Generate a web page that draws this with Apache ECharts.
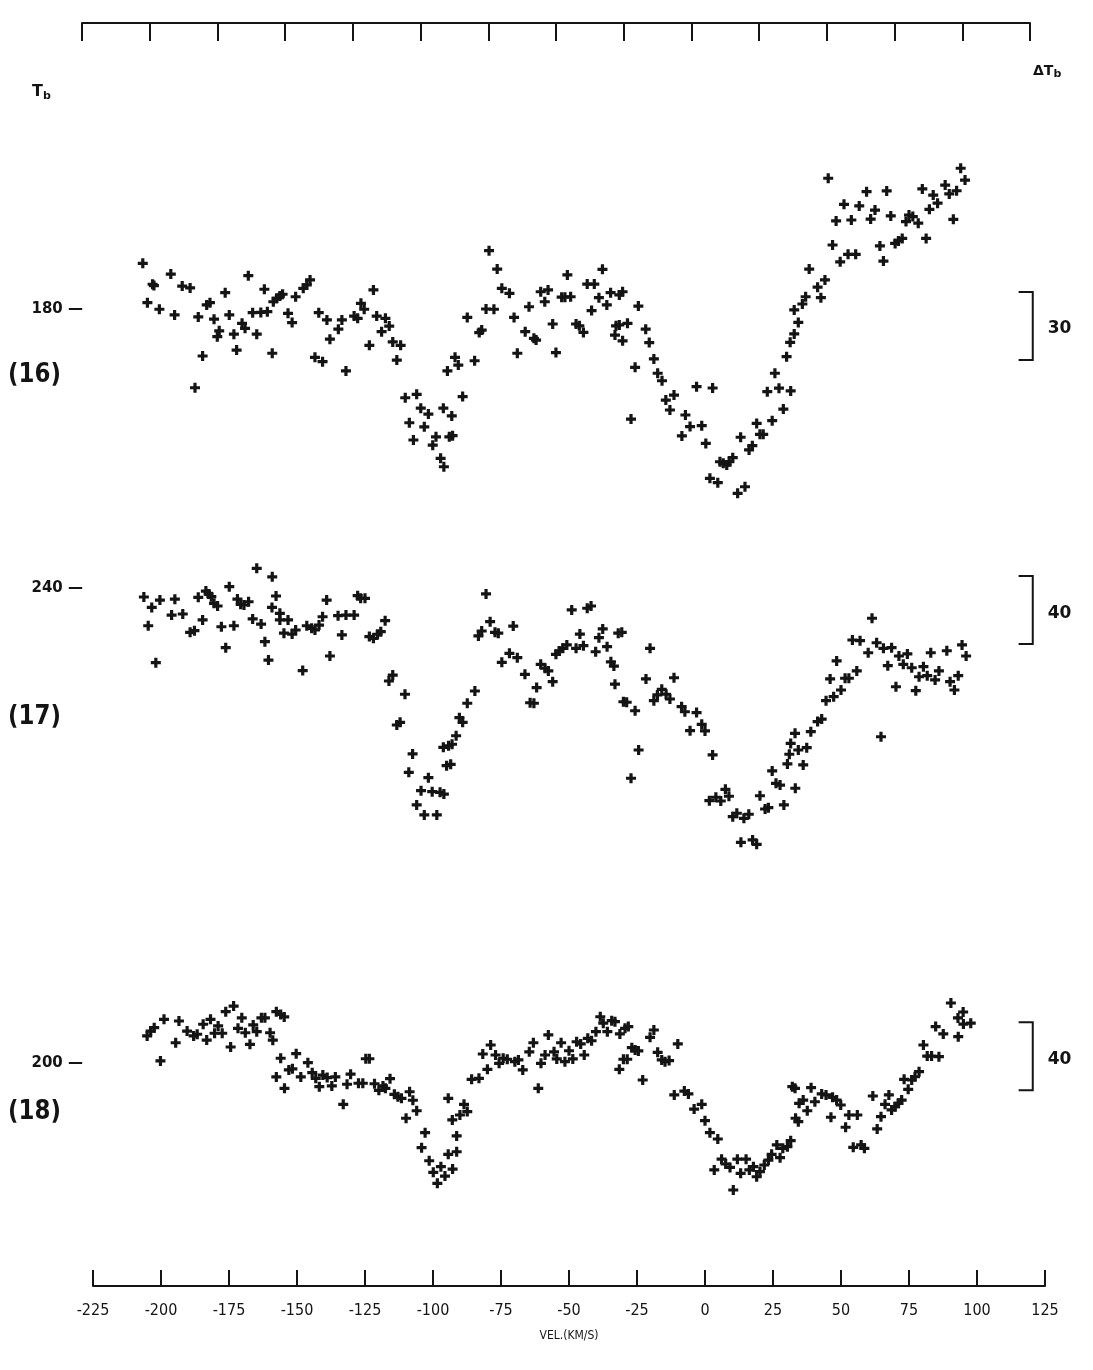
<!DOCTYPE html>
<html>
<head>
<meta charset="utf-8">
<script src="https://cdn.jsdelivr.net/npm/echarts@6/dist/echarts.min.js"></script>
<style>html,body{margin:0;padding:0;background:#fff}#c{width:1093px;height:1370px}</style>
</head>
<body>
<div id="c"></div>
<script>
// Velocity axis (km/s)
const velTicks = [-225,-200,-175,-150,-125,-100,-75,-50,-25,0,25,50,75,100,125];

// Spectrum (16)
const vel16 = [-206.7,-205.0,-203.1,-202.6,-200.6,-196.4,-195.0,-192.2,-189.3,-187.5,-186.3,-184.7,-183.2,-182.0,-180.5,-179.3,-178.6,-176.4,-174.9,-173.2,-172.2,-170.2,-169.1,-167.9,-166.3,-164.8,-163.3,-162.0,-160.9,-159.1,-158.7,-157.5,-156.3,-155.3,-153.3,-151.8,-150.5,-147.7,-146.4,-145.2,-143.4,-142.0,-140.6,-139.0,-137.9,-134.8,-133.5,-132.0,-129.0,-127.7,-126.5,-125.3,-123.4,-121.9,-120.7,-118.9,-117.5,-116.1,-114.8,-113.3,-111.9,-110.2,-108.7,-107.2,-106.0,-104.5,-103.2,-101.7,-100.1,-98.9,-97.2,-96.2,-96.0,-94.7,-94.0,-93.1,-92.8,-91.9,-90.7,-89.1,-87.4,-84.7,-83.0,-82.1,-80.5,-79.4,-77.6,-76.4,-74.7,-71.9,-70.2,-69.0,-66.1,-64.7,-62.9,-62.1,-60.4,-58.9,-57.7,-56.0,-54.8,-52.7,-51.5,-50.6,-49.4,-47.4,-46.2,-44.7,-43.3,-41.7,-40.7,-39.0,-37.7,-36.1,-34.7,-33.1,-32.7,-31.5,-31.5,-30.3,-30.3,-28.5,-27.2,-25.7,-24.5,-21.8,-20.5,-18.8,-17.4,-15.8,-14.4,-12.9,-11.4,-8.5,-7.2,-5.5,-3.1,-1.2,0.3,1.8,2.8,4.7,5.5,6.7,8.0,8.9,10.2,12.0,13.1,14.7,16.2,17.4,19.0,20.2,21.4,22.9,24.7,25.7,27.2,28.8,30.0,31.3,31.5,32.8,32.8,34.3,35.8,37.0,38.3,41.4,42.6,44.1,45.3,46.9,48.2,49.7,51.1,52.6,53.8,55.4,56.7,59.4,60.9,62.5,64.3,65.6,66.8,68.3,69.9,71.1,72.5,73.9,75.0,76.4,78.4,79.9,81.3,82.5,83.9,85.5,88.3,89.8,91.3,92.5,94.0,95.6];
const tb16 = [200.1,182.8,190.9,190.3,179.9,195.4,177.4,190.1,189.3,145.3,176.5,159.3,181.8,182.8,175.5,167.8,170.4,187.2,177.4,168.9,161.9,173.7,171.5,194.7,178.4,168.9,178.5,188.7,178.8,160.5,183.2,184.7,185.7,186.5,178.1,174.0,185.4,189.1,190.6,192.8,158.7,178.4,156.8,175.2,166.7,171.1,175.2,152.7,176.9,175.9,182.5,179.9,164.0,188.4,176.9,170.0,175.9,172.5,165.5,157.5,164.0,140.9,129.9,122.3,142.4,136.3,128.1,133.7,120.0,123.7,114.2,136.3,110.5,152.7,123.7,132.9,124.2,158.7,155.3,141.4,176.3,157.2,169.6,170.7,180.0,205.7,179.9,197.6,189.1,186.9,176.3,160.5,170.0,181.0,167.1,166.3,187.6,183.2,188.4,173.4,160.8,185.2,185.2,195.0,185.4,173.4,172.6,169.7,191.0,179.3,191.0,185.0,197.5,181.8,187.2,168.5,172.6,173.0,186.2,187.6,166.0,173.7,131.5,154.3,181.3,171.1,165.2,158.0,151.7,148.4,139.9,135.5,142.1,124.1,133.3,128.2,145.8,128.6,120.8,105.4,145.2,103.5,112.7,112.0,111.3,112.7,114.5,98.8,123.5,101.7,117.9,119.8,129.6,124.8,124.8,143.6,130.8,151.7,145.1,135.9,159.0,165.3,143.9,169.0,179.6,174.1,182.2,185.4,197.6,189.6,185.0,192.8,237.6,208.2,218.8,200.8,226.1,204.1,219.2,204.1,225.4,231.7,219.6,223.6,207.8,201.1,232.0,221.0,208.9,210.0,211.1,218.5,221.4,220.7,217.8,232.9,211.1,223.9,230.2,226.6,234.6,230.7,219.5,232.1,242.0,236.8];

// Spectrum (17)
const vel17 = [-206.3,-204.7,-203.4,-201.9,-200.4,-196.1,-194.9,-192.0,-189.3,-187.7,-186.3,-184.7,-183.5,-182.5,-181.5,-180.5,-179.2,-177.8,-176.2,-174.9,-173.2,-171.9,-170.7,-169.5,-167.8,-166.3,-164.8,-163.2,-161.8,-160.5,-159.2,-159.1,-157.7,-156.3,-156.3,-154.8,-153.3,-151.8,-150.5,-147.9,-146.4,-144.6,-143.4,-141.9,-140.6,-139.1,-137.9,-134.9,-133.5,-132.0,-129.0,-127.7,-126.6,-125.0,-123.4,-121.9,-120.4,-119.2,-117.6,-116.2,-114.8,-113.3,-112.1,-110.3,-108.9,-107.5,-106.0,-104.4,-103.2,-101.7,-100.3,-98.6,-97.4,-96.2,-96.0,-95.0,-94.3,-93.5,-93.0,-91.5,-90.3,-89.1,-87.4,-84.6,-83.3,-82.1,-80.5,-79.0,-77.2,-76.0,-74.7,-71.9,-70.5,-69.0,-66.2,-64.3,-62.9,-61.9,-60.4,-58.8,-57.6,-56.0,-54.8,-53.6,-52.3,-50.8,-49.0,-47.4,-46.0,-44.7,-43.3,-41.9,-40.2,-39.0,-37.6,-36.0,-34.6,-33.5,-33.1,-31.9,-30.6,-30.0,-28.8,-27.2,-25.7,-24.4,-21.7,-20.2,-18.8,-17.5,-15.9,-14.3,-12.9,-11.4,-8.6,-7.4,-5.5,-3.1,-1.2,0.0,1.6,2.8,4.0,5.8,7.5,8.8,10.2,11.7,13.2,14.3,16.1,17.5,19.0,20.2,22.1,23.3,24.7,26.1,27.6,29.0,30.3,31.0,31.5,33.1,33.2,34.3,36.1,37.4,38.9,41.4,42.9,44.5,46.0,47.3,48.4,50.0,51.5,52.9,54.2,55.8,57.0,60.0,61.4,63.1,64.7,65.6,67.2,68.6,70.2,71.3,72.9,74.4,76.0,77.5,78.7,80.3,81.7,83.0,84.6,86.0,88.9,90.1,91.7,93.1,94.5,96.0];
const tb17 = [234.7,217.8,228.6,196.1,232.9,224.1,233.4,224.7,213.9,214.9,234.5,221.2,238.2,236.5,234.9,231.0,229.4,217.2,204.9,240.8,217.8,233.5,230.4,230.0,231.9,221.8,251.6,218.8,208.4,197.6,228.6,246.6,235.3,225.1,221.2,213.4,221.2,212.9,215.3,191.4,217.8,216.3,215.3,218.2,223.1,232.9,200.0,223.7,212.4,224.1,224.1,235.5,233.9,233.9,211.4,210.4,212.8,214.3,220.8,185.3,188.8,159.4,161.0,177.5,131.6,142.4,112.4,120.8,106.5,128.4,120.2,106.5,119.8,146.3,118.8,135.5,147.2,136.3,148.1,153.1,163.7,161.0,172.2,179.4,211.8,214.7,236.5,220.2,213.9,213.4,196.3,201.6,217.6,199.0,189.2,172.5,172.2,181.4,195.1,192.8,191.2,184.9,201.0,202.9,204.5,206.5,227.1,204.5,212.9,206.1,228.1,229.4,202.5,210.8,215.9,205.5,196.6,194.1,183.4,213.4,213.9,173.1,172.8,128.1,167.8,144.7,186.5,204.5,173.7,177.1,180.4,177.5,174.7,187.2,170.2,167.2,156.1,166.7,159.8,155.9,114.9,141.8,116.9,114.7,121.6,117.5,105.5,107.5,90.4,104.5,106.9,91.8,89.2,117.8,110.0,110.8,132.4,125.1,124.1,112.4,136.5,142.2,148.6,154.5,122.2,144.7,135.9,146.1,155.5,161.4,162.9,173.7,186.5,176.1,197.1,180.0,186.9,186.9,209.4,191.2,209.0,201.9,222.2,207.8,152.5,204.5,194.3,204.9,181.9,200.0,195.1,201.2,193.1,179.6,187.8,193.7,188.4,201.9,185.9,191.2,203.1,184.9,180.0,188.4,206.5,200.0];

// Spectrum (18)
const vel18 = [-205.1,-203.8,-202.5,-200.2,-198.9,-194.6,-193.4,-190.4,-188.0,-186.7,-184.5,-183.2,-181.8,-180.3,-179.0,-177.5,-176.2,-174.4,-173.3,-171.7,-170.3,-169.0,-167.3,-166.1,-164.8,-163.1,-161.8,-159.9,-158.9,-157.6,-156.0,-154.7,-157.6,-156.0,-154.6,-153.0,-151.7,-150.3,-148.6,-146.0,-144.4,-143.1,-141.8,-140.5,-138.9,-137.2,-135.9,-133.0,-131.6,-130.3,-127.4,-125.8,-124.7,-123.4,-121.5,-119.9,-118.4,-117.5,-115.8,-114.2,-112.9,-111.6,-109.9,-108.6,-107.4,-106.0,-104.2,-102.9,-101.4,-99.9,-98.4,-97.1,-95.6,-94.4,-94.4,-92.9,-92.8,-91.3,-91.3,-90.1,-88.6,-87.4,-85.8,-83.1,-81.7,-80.0,-78.8,-77.0,-75.7,-74.2,-72.7,-69.9,-68.6,-67.0,-64.6,-63.1,-61.3,-60.3,-58.8,-57.6,-55.5,-54.5,-52.9,-51.5,-50.0,-48.6,-47.2,-45.7,-44.4,-43.1,-41.7,-40.1,-38.5,-37.4,-35.9,-34.3,-33.1,-31.5,-31.3,-30.0,-29.4,-28.6,-28.2,-26.9,-25.7,-24.5,-22.9,-20.2,-18.8,-17.4,-15.9,-14.7,-13.2,-11.3,-10.0,-7.6,-6.1,-4.0,-1.2,0.0,1.8,3.4,4.7,6.1,7.6,9.2,10.4,11.9,13.1,15.1,16.3,17.8,19.0,20.2,21.8,23.3,24.5,26.4,27.6,28.6,30.3,31.5,32.1,33.1,33.3,34.3,34.6,36.1,37.6,39.0,40.4,42.9,44.5,46.3,46.9,48.4,49.9,51.7,52.9,54.5,56.0,57.4,58.6,61.7,63.3,64.7,66.2,67.6,68.6,69.9,71.1,72.3,73.2,74.7,76.0,77.2,78.7,80.3,81.7,83.3,84.8,86.0,87.6,90.4,93.0,93.1,94.9,95.0,97.7];
const tb18 = [215.9,218.8,220.8,201.2,225.7,211.9,224.7,218.8,215.9,216.9,222.8,213.5,225.7,217.5,221.8,217.5,230.2,209.4,233.5,220.4,226.6,217.8,211.0,222.4,218.4,226.6,226.6,217.8,213.4,230.2,228.6,227.1,191.8,202.8,185.1,195.9,196.6,205.5,191.8,200.2,194.3,191.0,186.1,192.9,191.4,186.5,191.8,175.7,187.5,193.4,188.1,188.1,202.5,202.5,187.8,183.9,186.5,185.1,190.8,181.6,180.2,179.2,167.5,183.1,178.1,171.9,150.2,159.0,142.5,135.7,129.2,139.0,133.5,146.3,179.2,166.5,137.6,147.8,157.1,169.4,175.7,171.4,190.4,191.0,205.3,196.3,210.6,204.7,199.8,202.8,202.2,200.8,201.8,195.9,206.6,211.9,185.1,199.8,204.7,216.5,206.6,202.4,211.9,200.8,207.2,202.4,212.5,211.2,204.7,214.5,213.1,218.4,227.2,223.4,218.4,224.9,224.3,196.3,217.1,202.2,220.4,202.2,221.4,209.0,207.6,207.1,190.0,215.1,219.4,206.3,201.8,200.8,201.4,181.2,211.2,183.5,181.8,172.9,175.7,166.1,159.0,137.1,155.3,143.4,140.6,138.6,125.3,143.4,135.1,143.4,137.1,139.0,133.1,136.1,140.0,142.9,146.3,151.8,144.3,149.8,150.8,154.3,186.1,185.1,167.5,165.5,176.3,178.2,171.9,185.5,177.2,181.8,181.2,168.1,179.8,178.2,175.3,162.2,169.4,150.4,169.4,151.8,149.8,180.6,161.2,168.4,175.7,181.2,172.4,174.3,176.3,178.2,190.4,184.5,190.0,191.9,194.9,210.6,204.1,204.1,221.4,203.7,217.1,235.3,226.5,215.5,230.0,222.9,223.4];

// Reference temperature labels (left) and scale bars [low, high] in K (right)
const refT = [180, 240, 200];
const scaleBars = [[157.5, 187.5], [207, 247], [184, 224]];
const panelNames = ['(16)', '(17)', '(18)'];

const INK = '#141414';
const plus = 'path://M3.4,0H6.6V3.4H10V6.6H6.6V10H3.4V6.6H0V3.4H3.4Z';

const panels = [
  {vel: vel16, tb: tb16, top: 150.1, height: 363.2, min: 90, max: 250},
  {vel: vel17, tb: tb17, top: 520, height: 374, min: 60, max: 280},
  {vel: vel18, tb: tb18, top: 995, height: 238, min: 100, max: 240}
];

const grid = [], xAxis = [], yAxis = [], series = [];
panels.forEach((p, i) => {
  grid.push({left: 93, right: 48, top: p.top, height: p.height});
  xAxis.push({gridIndex: i, type: 'value', min: -225, max: 125, interval: 25, show: false});
  yAxis.push({
    gridIndex: i, type: 'value', min: p.min, max: p.max,
    axisLine: {show: false}, axisTick: {show: false}, splitLine: {show: false},
    axisLabel: {
      customValues: [refT[i]], margin: 10, color: INK,
      fontFamily: 'DejaVu Sans', fontWeight: 'bold', fontSize: 15,
      formatter: v => v + ' \u2014'
    }
  });
  series.push({
    type: 'scatter', xAxisIndex: i, yAxisIndex: i, silent: true,
    symbol: plus, symbolSize: 10, itemStyle: {color: INK, opacity: 1},
    data: p.vel.map((v, k) => [v, p.tb[k]])
  });
  series.push({
    type: 'custom', xAxisIndex: i, yAxisIndex: i, silent: true, clip: false,
    data: [[120.5, scaleBars[i][0], scaleBars[i][1]]],
    encode: {x: 0, y: [1, 2]},
    renderItem: (params, api) => {
      const lo = api.value(1), hi = api.value(2);
      const pLo = api.coord([api.value(0), lo]);
      const pHi = api.coord([api.value(0), hi]);
      const xIn = api.coord([115.3, lo])[0];
      return {
        type: 'group',
        children: [
          {type: 'polyline', shape: {points: [[xIn, pHi[1]], [pHi[0], pHi[1]], [pLo[0], pLo[1]], [xIn, pLo[1]]]},
           style: {stroke: INK, lineWidth: 2, fill: null}},
          {type: 'text', x: pHi[0] + 15, y: (pHi[1] + pLo[1]) / 2 + 3,
           style: {text: String(Math.round(hi - lo)), fill: INK, font: 'bold 17px "DejaVu Sans"', verticalAlign: 'middle', align: 'left'}}
        ]
      };
    }
  });
});

// Bottom velocity axis
grid.push({left: 93, right: 48, top: 1285, height: 1});
xAxis.push({
  gridIndex: 3, type: 'value', min: -225, max: 125, interval: 25, position: 'bottom',
  axisLine: {show: true, lineStyle: {color: INK, width: 2}},
  axisTick: {show: true, inside: true, length: 16, lineStyle: {color: INK, width: 2}},
  axisLabel: {show: true, margin: 17, color: INK, fontSize: 16,
    fontFamily: '"DejaVu Sans Condensed", "Liberation Sans Narrow", "DejaVu Sans"',
    customValues: velTicks, formatter: v => String(v)},
  splitLine: {show: false},
  name: 'VEL.(KM/S)', nameLocation: 'middle', nameGap: 44,
  nameTextStyle: {color: INK, fontSize: 12, fontFamily: '"DejaVu Sans Condensed", "DejaVu Sans"'}
});
yAxis.push({gridIndex: 3, type: 'value', show: false, min: 0, max: 1});

// Top axis (ticks only)
grid.push({left: 82, right: 63, top: 22, height: 1});
xAxis.push({
  gridIndex: 4, type: 'value', min: -225, max: 125, interval: 25, position: 'top',
  axisLine: {show: true, lineStyle: {color: INK, width: 2}},
  axisTick: {show: true, inside: true, length: 18, lineStyle: {color: INK, width: 2}},
  axisLabel: {show: false}, splitLine: {show: false}
});
yAxis.push({gridIndex: 4, type: 'value', show: false, min: 0, max: 1});

const panelLabelY = [378, 720, 1115];
const graphic = panelNames.map((t, i) => ({
  type: 'text', left: 8, top: panelLabelY[i] - 17, silent: true,
  style: {text: t, fill: INK, font: 'bold 27px "DejaVu Sans"'}, scaleX: 0.85
}));
graphic.push({
  type: 'text', left: 32, top: 84, silent: true,
  style: {text: '{t|T}{s|b}', rich: {t: {fontSize: 16, fontWeight: 'bold', fontFamily: 'DejaVu Sans', fill: INK}, s: {fontSize: 11, fontWeight: 'bold', fontFamily: 'DejaVu Sans', fill: INK, verticalAlign: 'bottom', padding: [8, 0, 0, 0]}}}
});
graphic.push({
  type: 'text', left: 1033, top: 64, silent: true,
  style: {text: '{t|\u0394T}{s|b}', rich: {t: {fontSize: 14, fontWeight: 'bold', fontFamily: 'DejaVu Sans', fill: INK}, s: {fontSize: 11, fontWeight: 'bold', fontFamily: 'DejaVu Sans', fill: INK, verticalAlign: 'bottom', padding: [7, 0, 0, 0]}}}
});

const chart = echarts.init(document.getElementById('c'), null, {renderer: 'canvas'});
chart.setOption({
  backgroundColor: '#fff',
  animation: false,
  grid, xAxis, yAxis, series, graphic
});
</script>
</body>
</html>
